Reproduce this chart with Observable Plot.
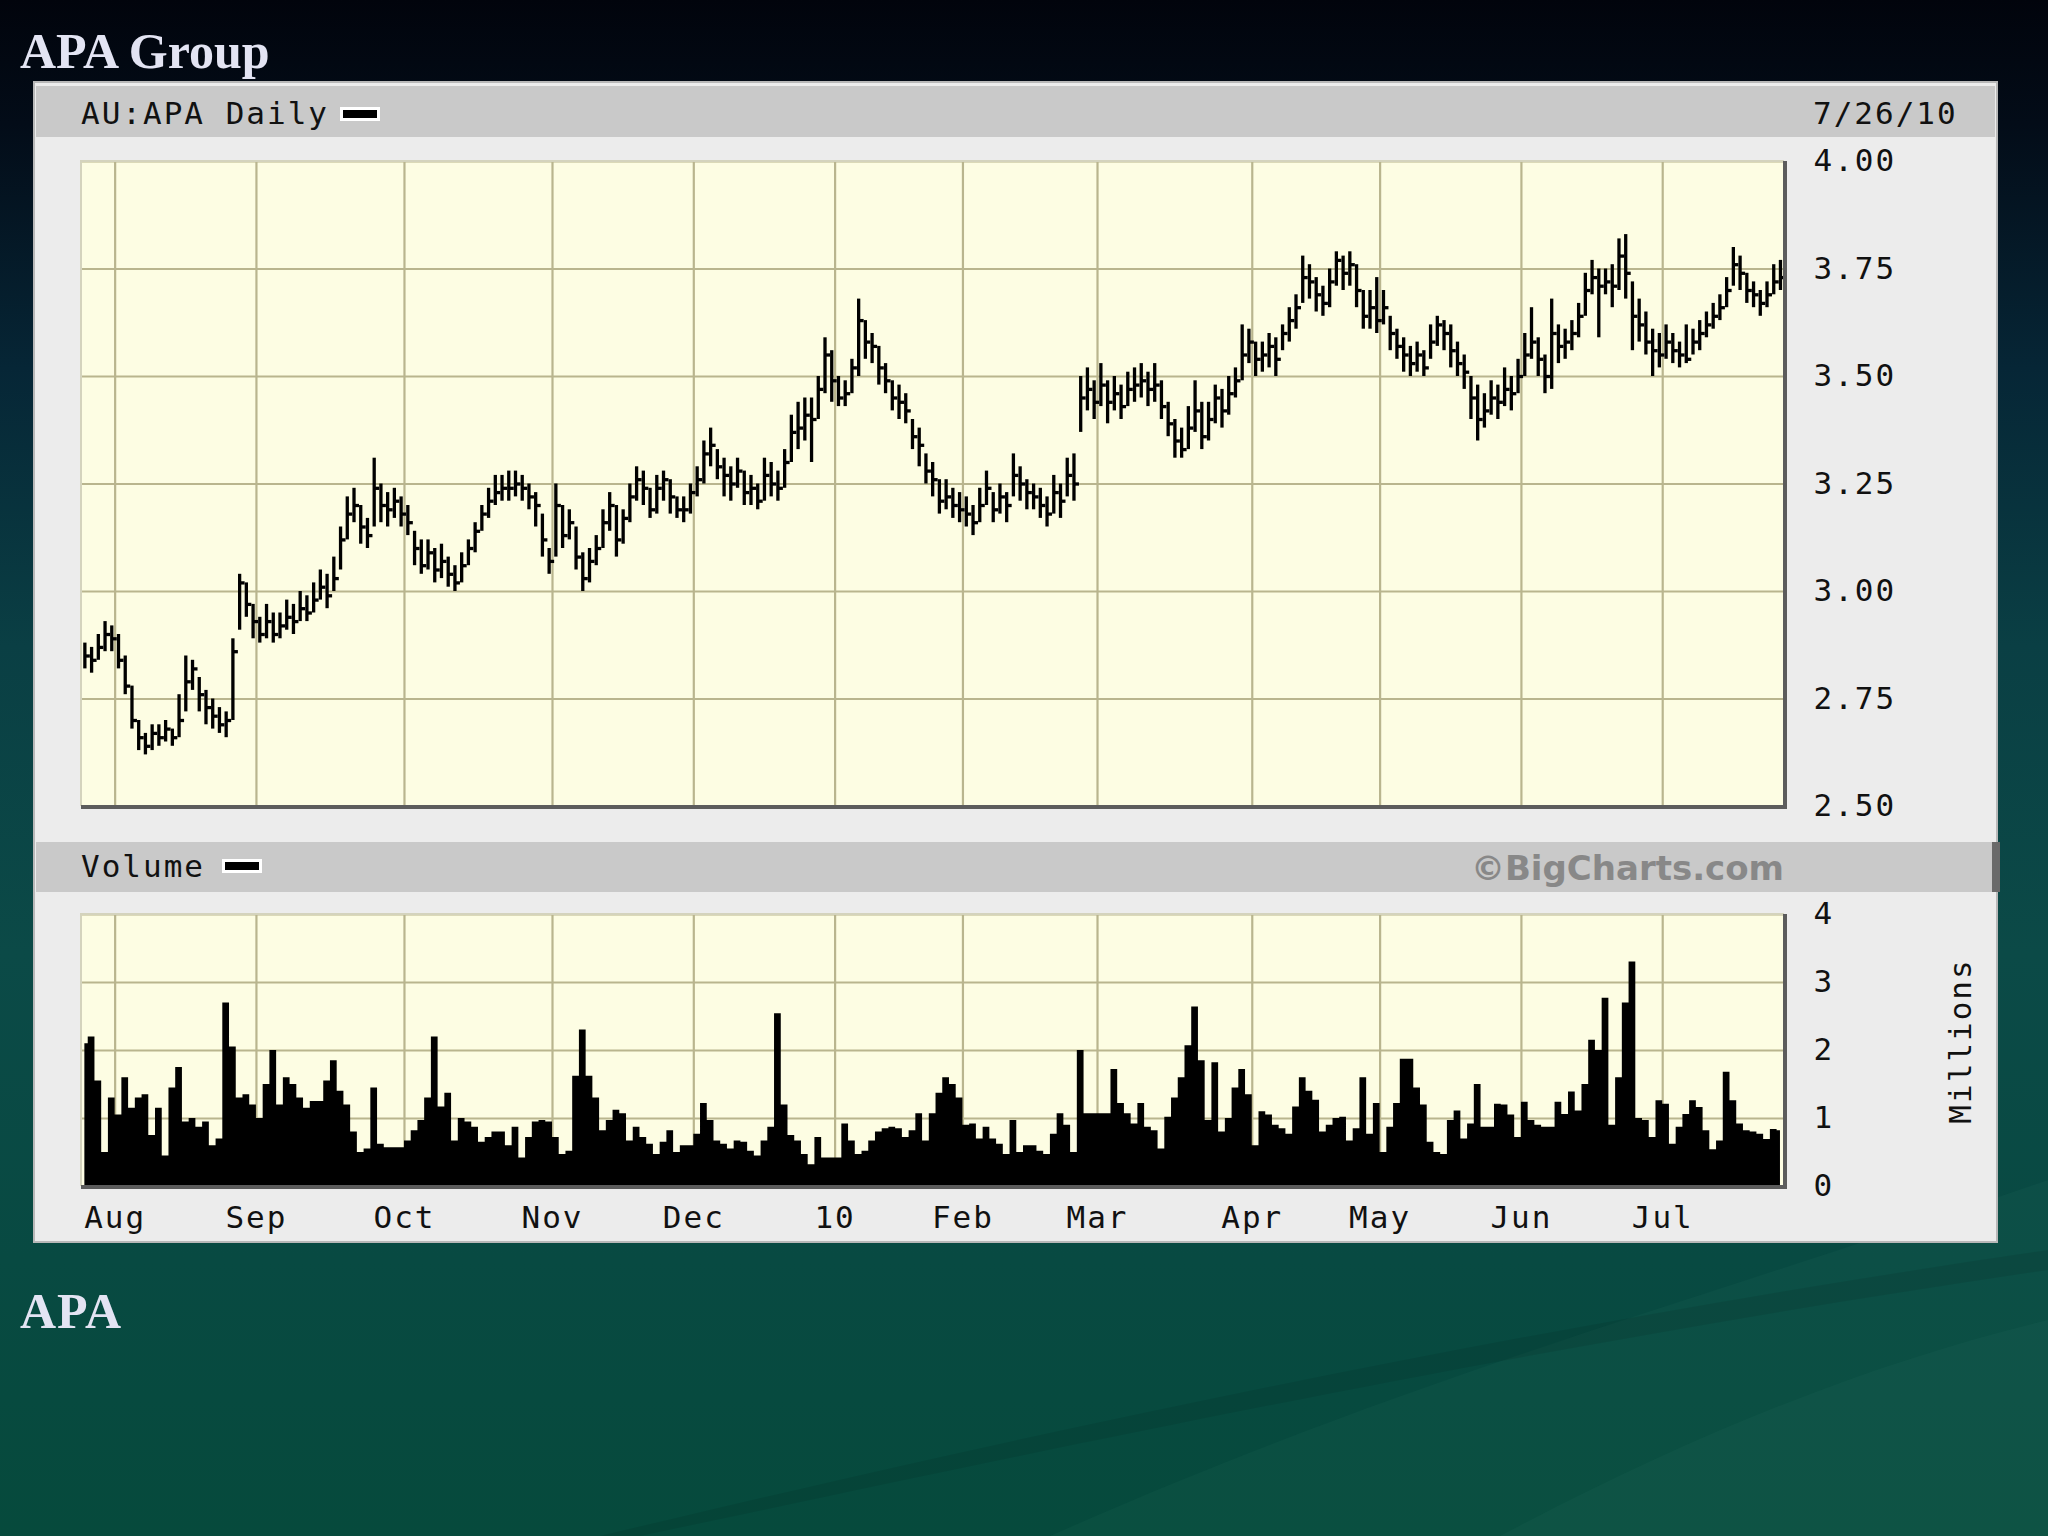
<!DOCTYPE html>
<html><head><meta charset="utf-8">
<script src="https://cdn.jsdelivr.net/npm/d3@7"></script>
<script src="https://cdn.jsdelivr.net/npm/@observablehq/plot@0.6"></script>
<style>
html,body{margin:0;padding:0;}
body{width:2048px;height:1536px;position:relative;overflow:hidden;
 background:linear-gradient(180deg,#01040c 0%,#030c18 8%,#062636 24%,#0a3f44 42%,#0b4a47 62%,#084a42 82%,#064a3c 100%);}
.abs{position:absolute;}
</style></head><body>
<svg class="abs" style="left:0;top:0" width="2048" height="1536">
  <path d="M1050,1536 C1400,1380 1700,1300 2048,1180 L2048,1536 Z" fill="rgba(120,200,180,0.04)"/>
  <path d="M1500,1536 C1700,1430 1880,1360 2048,1320 L2048,1536 Z" fill="rgba(120,200,180,0.04)"/>
  <path d="M600,1536 C1000,1440 1500,1330 2048,1250 L2048,1270 C1500,1350 1000,1460 640,1536 Z" fill="rgba(0,0,0,0.08)"/>
</svg>
<div class="abs" style="left:33px;top:81px;width:1965px;height:1162px;background:#ececec;box-sizing:border-box;border:2px solid #b8b8b8;"></div>
<div class="abs" style="left:36px;top:86px;width:1959px;height:51px;background:#c9c9c9"></div>
<div class="abs" style="left:36px;top:842px;width:1962px;height:50px;background:#c9c9c9"></div>
<div class="abs" style="left:1992px;top:842px;width:8px;height:50px;background:#6a6a6a"></div>
<div class="abs" style="left:340px;top:107px;width:40px;height:14px;background:#000;box-sizing:border-box;border:3px solid #fff"></div>
<div class="abs" style="left:222px;top:859px;width:40px;height:14px;background:#000;box-sizing:border-box;border:3px solid #fff"></div>
<div id="price" class="abs" style="left:33px;top:145px"></div>
<div id="vol" class="abs" style="left:33px;top:898px"></div>
<svg class="abs" style="left:0;top:0;pointer-events:none" width="2048" height="1536">
  <g font-family="Liberation Serif, serif" font-weight="bold" font-size="50" fill="#e3e4f3">
    <text x="20" y="68">APA Group</text>
    <text x="20" y="1328" letter-spacing="1">APA</text>
  </g>
  <g font-family="DejaVu Sans Mono, monospace" font-size="31" letter-spacing="2" fill="#111">
    <text x="81" y="124">AU:APA Daily</text>
    <text x="1813" y="124">7/26/10</text>
    <text x="81" y="877">Volume</text>
    <text transform="translate(1971,1041) rotate(-90)" text-anchor="middle">Millions</text>
  </g>
  <text x="1784" y="880" text-anchor="end" font-family="DejaVu Sans, sans-serif" font-weight="bold" font-size="34" fill="#888">©BigCharts.com</text>
</svg>
<script>
// Trading-day index 0..252 (27 Jul 2009 – 26 Jul 2010), AU:APA daily
const high = [
2.88,2.87,2.90,2.93,2.92,2.90,2.85,2.78,2.70,2.67,
2.69,2.69,2.70,2.68,2.76,2.85,2.84,2.80,2.77,2.75,
2.73,2.72,2.89,3.04,3.02,2.97,2.94,2.97,2.95,2.95,
2.98,2.97,3.00,2.99,3.02,3.05,3.04,3.08,3.15,3.22,
3.24,3.20,3.17,3.31,3.25,3.23,3.24,3.22,3.20,3.14,
3.12,3.12,3.10,3.11,3.08,3.06,3.09,3.12,3.16,3.20,
3.24,3.27,3.27,3.28,3.28,3.27,3.25,3.23,3.18,3.10,
3.25,3.20,3.19,3.15,3.09,3.10,3.13,3.19,3.23,3.20,
3.19,3.25,3.29,3.28,3.24,3.27,3.28,3.26,3.22,3.22,
3.25,3.29,3.35,3.38,3.33,3.31,3.29,3.31,3.28,3.27,
3.25,3.31,3.30,3.28,3.33,3.41,3.44,3.45,3.45,3.50,
3.59,3.56,3.50,3.49,3.54,3.68,3.63,3.60,3.57,3.53,
3.49,3.48,3.46,3.40,3.38,3.32,3.30,3.26,3.26,3.24,
3.23,3.22,3.20,3.24,3.28,3.23,3.25,3.23,3.32,3.29,
3.26,3.25,3.24,3.22,3.27,3.25,3.31,3.32,3.50,3.52,
3.49,3.53,3.49,3.50,3.48,3.51,3.52,3.53,3.51,3.53,
3.49,3.44,3.40,3.38,3.43,3.49,3.44,3.44,3.48,3.47,
3.50,3.52,3.62,3.61,3.58,3.58,3.60,3.59,3.62,3.66,
3.69,3.78,3.76,3.73,3.71,3.75,3.79,3.78,3.79,3.76,
3.70,3.70,3.73,3.70,3.64,3.61,3.59,3.57,3.58,3.56,
3.62,3.64,3.63,3.62,3.58,3.55,3.50,3.48,3.46,3.49,
3.48,3.52,3.50,3.54,3.60,3.66,3.59,3.55,3.68,3.62,
3.61,3.63,3.67,3.74,3.77,3.75,3.75,3.76,3.82,3.83,
3.72,3.68,3.65,3.61,3.60,3.62,3.60,3.58,3.62,3.61,
3.63,3.65,3.67,3.69,3.73,3.80,3.78,3.74,3.72,3.70,
3.72,3.76,3.77];
const low = [
2.82,2.81,2.84,2.86,2.86,2.82,2.76,2.68,2.63,2.62,
2.63,2.64,2.65,2.64,2.66,2.72,2.77,2.72,2.69,2.68,
2.67,2.66,2.70,2.91,2.94,2.89,2.88,2.89,2.88,2.89,
2.91,2.90,2.93,2.93,2.95,2.98,2.96,3.00,3.05,3.12,
3.16,3.11,3.10,3.15,3.16,3.15,3.17,3.15,3.13,3.06,
3.04,3.05,3.02,3.03,3.01,3.00,3.02,3.06,3.09,3.14,
3.17,3.20,3.21,3.21,3.22,3.21,3.19,3.15,3.08,3.04,
3.08,3.10,3.12,3.05,3.00,3.02,3.06,3.10,3.14,3.08,
3.11,3.16,3.21,3.20,3.17,3.18,3.21,3.18,3.17,3.16,
3.18,3.22,3.25,3.29,3.26,3.22,3.21,3.24,3.20,3.20,
3.19,3.21,3.22,3.21,3.24,3.30,3.33,3.35,3.30,3.40,
3.46,3.44,3.43,3.43,3.46,3.50,3.54,3.53,3.48,3.46,
3.42,3.40,3.39,3.33,3.29,3.25,3.22,3.18,3.19,3.17,
3.16,3.15,3.13,3.16,3.20,3.16,3.18,3.16,3.22,3.21,
3.19,3.19,3.17,3.15,3.18,3.17,3.22,3.21,3.37,3.42,
3.40,3.43,3.39,3.42,3.40,3.43,3.44,3.45,3.43,3.44,
3.40,3.36,3.31,3.31,3.33,3.37,3.33,3.35,3.39,3.38,
3.41,3.45,3.49,3.53,3.50,3.51,3.52,3.50,3.56,3.58,
3.61,3.67,3.68,3.65,3.64,3.66,3.71,3.70,3.71,3.66,
3.61,3.61,3.60,3.62,3.56,3.54,3.51,3.50,3.51,3.50,
3.54,3.57,3.56,3.52,3.50,3.47,3.40,3.35,3.38,3.41,
3.40,3.43,3.42,3.46,3.50,3.54,3.50,3.46,3.47,3.53,
3.54,3.56,3.59,3.64,3.69,3.59,3.69,3.66,3.70,3.68,
3.56,3.58,3.55,3.50,3.52,3.54,3.53,3.52,3.53,3.55,
3.56,3.59,3.61,3.63,3.66,3.71,3.70,3.67,3.66,3.64,
3.66,3.69,3.70];
const close = [
2.85,2.84,2.87,2.90,2.89,2.84,2.78,2.70,2.66,2.64,
2.67,2.66,2.68,2.66,2.70,2.79,2.82,2.76,2.73,2.71,
2.69,2.70,2.86,3.02,2.97,2.93,2.90,2.93,2.90,2.92,
2.94,2.93,2.96,2.95,2.98,3.01,2.99,3.03,3.12,3.18,
3.20,3.15,3.13,3.24,3.20,3.19,3.21,3.18,3.16,3.10,
3.06,3.09,3.05,3.07,3.04,3.02,3.06,3.10,3.14,3.18,
3.21,3.23,3.24,3.24,3.25,3.24,3.22,3.20,3.12,3.07,
3.20,3.13,3.16,3.08,3.03,3.07,3.10,3.16,3.20,3.12,
3.17,3.22,3.26,3.24,3.19,3.24,3.26,3.22,3.19,3.19,
3.23,3.26,3.32,3.34,3.29,3.27,3.25,3.28,3.23,3.24,
3.21,3.27,3.25,3.24,3.30,3.37,3.38,3.41,3.40,3.47,
3.55,3.49,3.45,3.46,3.52,3.63,3.58,3.57,3.52,3.49,
3.45,3.44,3.42,3.36,3.34,3.28,3.26,3.21,3.22,3.20,
3.19,3.18,3.16,3.20,3.24,3.19,3.22,3.20,3.27,3.25,
3.23,3.22,3.20,3.18,3.23,3.21,3.27,3.25,3.45,3.47,
3.44,3.48,3.44,3.46,3.43,3.47,3.48,3.49,3.47,3.48,
3.43,3.39,3.35,3.33,3.38,3.42,3.36,3.40,3.45,3.42,
3.46,3.49,3.55,3.58,3.54,3.55,3.57,3.54,3.60,3.63,
3.66,3.73,3.72,3.69,3.67,3.72,3.77,3.74,3.76,3.70,
3.64,3.66,3.63,3.66,3.60,3.57,3.55,3.53,3.55,3.52,
3.58,3.62,3.60,3.56,3.53,3.51,3.45,3.40,3.42,3.45,
3.44,3.47,3.46,3.50,3.55,3.58,3.54,3.50,3.60,3.57,
3.58,3.60,3.64,3.70,3.73,3.71,3.72,3.71,3.78,3.74,
3.64,3.62,3.58,3.56,3.55,3.58,3.56,3.55,3.54,3.58,
3.60,3.62,3.64,3.66,3.70,3.76,3.74,3.70,3.69,3.67,
3.69,3.72,3.73];
// Volume, millions of shares
const volume = [
2.1,2.2,1.55,0.5,1.3,1.05,1.6,1.15,1.3,1.35,
0.75,1.15,0.45,1.45,1.75,0.95,1.0,0.87,0.95,0.6,
0.7,2.7,2.05,1.3,1.35,1.2,1.0,1.5,2.0,1.2,
1.6,1.5,1.3,1.15,1.25,1.25,1.55,1.85,1.4,1.2,
0.8,0.5,0.55,1.45,0.62,0.57,0.57,0.57,0.67,0.82,
0.97,1.3,2.2,1.17,1.37,0.67,1.0,0.95,0.87,0.65,
0.72,0.8,0.8,0.6,0.87,0.42,0.72,0.95,0.97,0.95,
0.72,0.47,0.52,1.62,2.3,1.62,1.3,0.82,0.97,1.12,
1.07,0.67,0.87,0.72,0.62,0.47,0.65,0.82,0.5,0.6,
0.6,0.77,1.22,0.97,0.67,0.62,0.55,0.67,0.65,0.52,
0.45,0.67,0.87,2.54,1.2,0.75,0.67,0.47,0.32,0.72,
0.42,0.42,0.42,0.92,0.67,0.47,0.52,0.67,0.8,0.85,
0.87,0.85,0.72,0.82,1.07,0.67,1.07,1.37,1.6,1.5,
1.3,0.9,0.92,0.7,0.87,0.7,0.62,0.47,0.97,0.5,
0.6,0.6,0.52,0.47,0.77,1.07,0.9,0.5,2.0,1.07,
1.07,1.07,1.07,1.72,1.22,1.07,0.92,1.22,0.87,0.82,
0.55,1.02,1.3,1.6,2.07,2.64,1.85,0.97,1.82,0.8,
1.0,1.45,1.72,1.35,0.6,1.1,1.05,0.9,0.85,0.77,
1.17,1.6,1.4,1.27,0.8,0.9,1.0,1.02,0.67,0.85,
1.6,0.77,1.22,0.5,0.87,1.22,1.87,1.87,1.45,1.2,
0.65,0.5,0.47,0.97,1.11,0.7,0.92,1.5,0.87,0.87,
1.21,1.2,1.05,0.72,1.24,0.97,0.9,0.87,0.87,1.24,
1.06,1.39,1.11,1.5,2.15,2.0,2.77,0.9,1.6,2.7,
3.3,1.0,0.97,0.72,1.26,1.21,0.62,0.87,1.06,1.26,
1.16,0.82,0.54,0.67,1.68,1.26,0.92,0.82,0.8,0.77,
0.69,0.84,0.82];
// Month boundaries (trading-day position) and labels
const monthTickPos = [4.5,25.5,47.5,69.5,90.5,111.5,130.5,150.5,173.5,192.5,213.5,234.5];
const monthLabels = ["Aug","Sep","Oct","Nov","Dec","10","Feb","Mar","Apr","May","Jun","Jul"];
const priceTicks = [2.50,2.75,3.00,3.25,3.50,3.75,4.00];
const volumeTicks = [0,1,2,3,4];

const rows = close.map((c, i) => ({i, high: high[i], low: low[i], close: c, vol: volume[i]}));

const CREAM = "#fdfde3", GRID = "#b9b58e", INK = "#000";
const font = {fontFamily: "DejaVu Sans Mono, monospace", fontSize: "31px", letterSpacing: "2px",
  color: "#111", background: "transparent", overflow: "visible"};
const xDomain = [-0.5, 252.6];

function frameEdges(index, scales, values, dims) {
  const {width, height, marginTop, marginRight, marginBottom, marginLeft} = dims;
  const x0 = marginLeft, x1 = width - marginRight, y0 = marginTop, y1 = height - marginBottom;
  const g = document.createElementNS("http://www.w3.org/2000/svg", "g");
  g.innerHTML = `<path d="M${x0},${y1}V${y0}H${x1}" fill="none" stroke="#d4d3bd" stroke-width="2"/>` +
    `<path d="M${x0},${y1 + 1}H${x1 + 1}V${y0}" fill="none" stroke="#5c5c5c" stroke-width="4"/>`;
  return g;
}

const closeTick = {draw(ctx, size) { const r = Math.sqrt(size / Math.PI); ctx.moveTo(0, 0); ctx.lineTo(r, 0); }};

const pricePlot = Plot.plot({
  width: 1965, height: 685,
  marginLeft: 48, marginRight: 214, marginTop: 16, marginBottom: 24,
  style: font,
  x: {domain: xDomain, axis: null},
  y: {domain: [2.5, 4.0], ticks: priceTicks, tickFormat: d3.format(".2f"), axis: "right", tickSize: 0, tickPadding: 29, label: null},
  marks: [
    Plot.frame({fill: CREAM, stroke: null}),
    Plot.ruleY(priceTicks, {stroke: GRID, strokeWidth: 2.2}),
    Plot.ruleX(monthTickPos, {stroke: GRID, strokeWidth: 2.2}),
    Plot.ruleX(rows, {x: "i", y1: "low", y2: "high", stroke: INK, strokeWidth: 3.3}),
    Plot.dot(rows, {x: "i", y: "close", symbol: closeTick, r: 5, stroke: INK, strokeWidth: 3.3, fill: "none"}),
    frameEdges
  ]
});
document.getElementById("price").append(pricePlot);

const volPlot = Plot.plot({
  width: 1965, height: 345,
  marginLeft: 48, marginRight: 214, marginTop: 16, marginBottom: 57,
  style: font,
  x: {domain: xDomain, ticks: monthTickPos, tickFormat: d => monthLabels[monthTickPos.indexOf(d)], tickSize: 0, tickPadding: 19, label: null},
  y: {domain: [0, 4], ticks: volumeTicks, tickFormat: d3.format("d"), axis: "right", tickSize: 0, tickPadding: 29, label: null},
  marks: [
    Plot.frame({fill: CREAM, stroke: null}),
    Plot.ruleY(volumeTicks, {stroke: GRID, strokeWidth: 2.2}),
    Plot.ruleX(monthTickPos, {stroke: GRID, strokeWidth: 2.2}),
    Plot.areaY(rows, {x: "i", y: "vol", curve: "step", fill: INK}),
    frameEdges
  ]
});
document.getElementById("vol").append(volPlot);
</script>
</body></html>
